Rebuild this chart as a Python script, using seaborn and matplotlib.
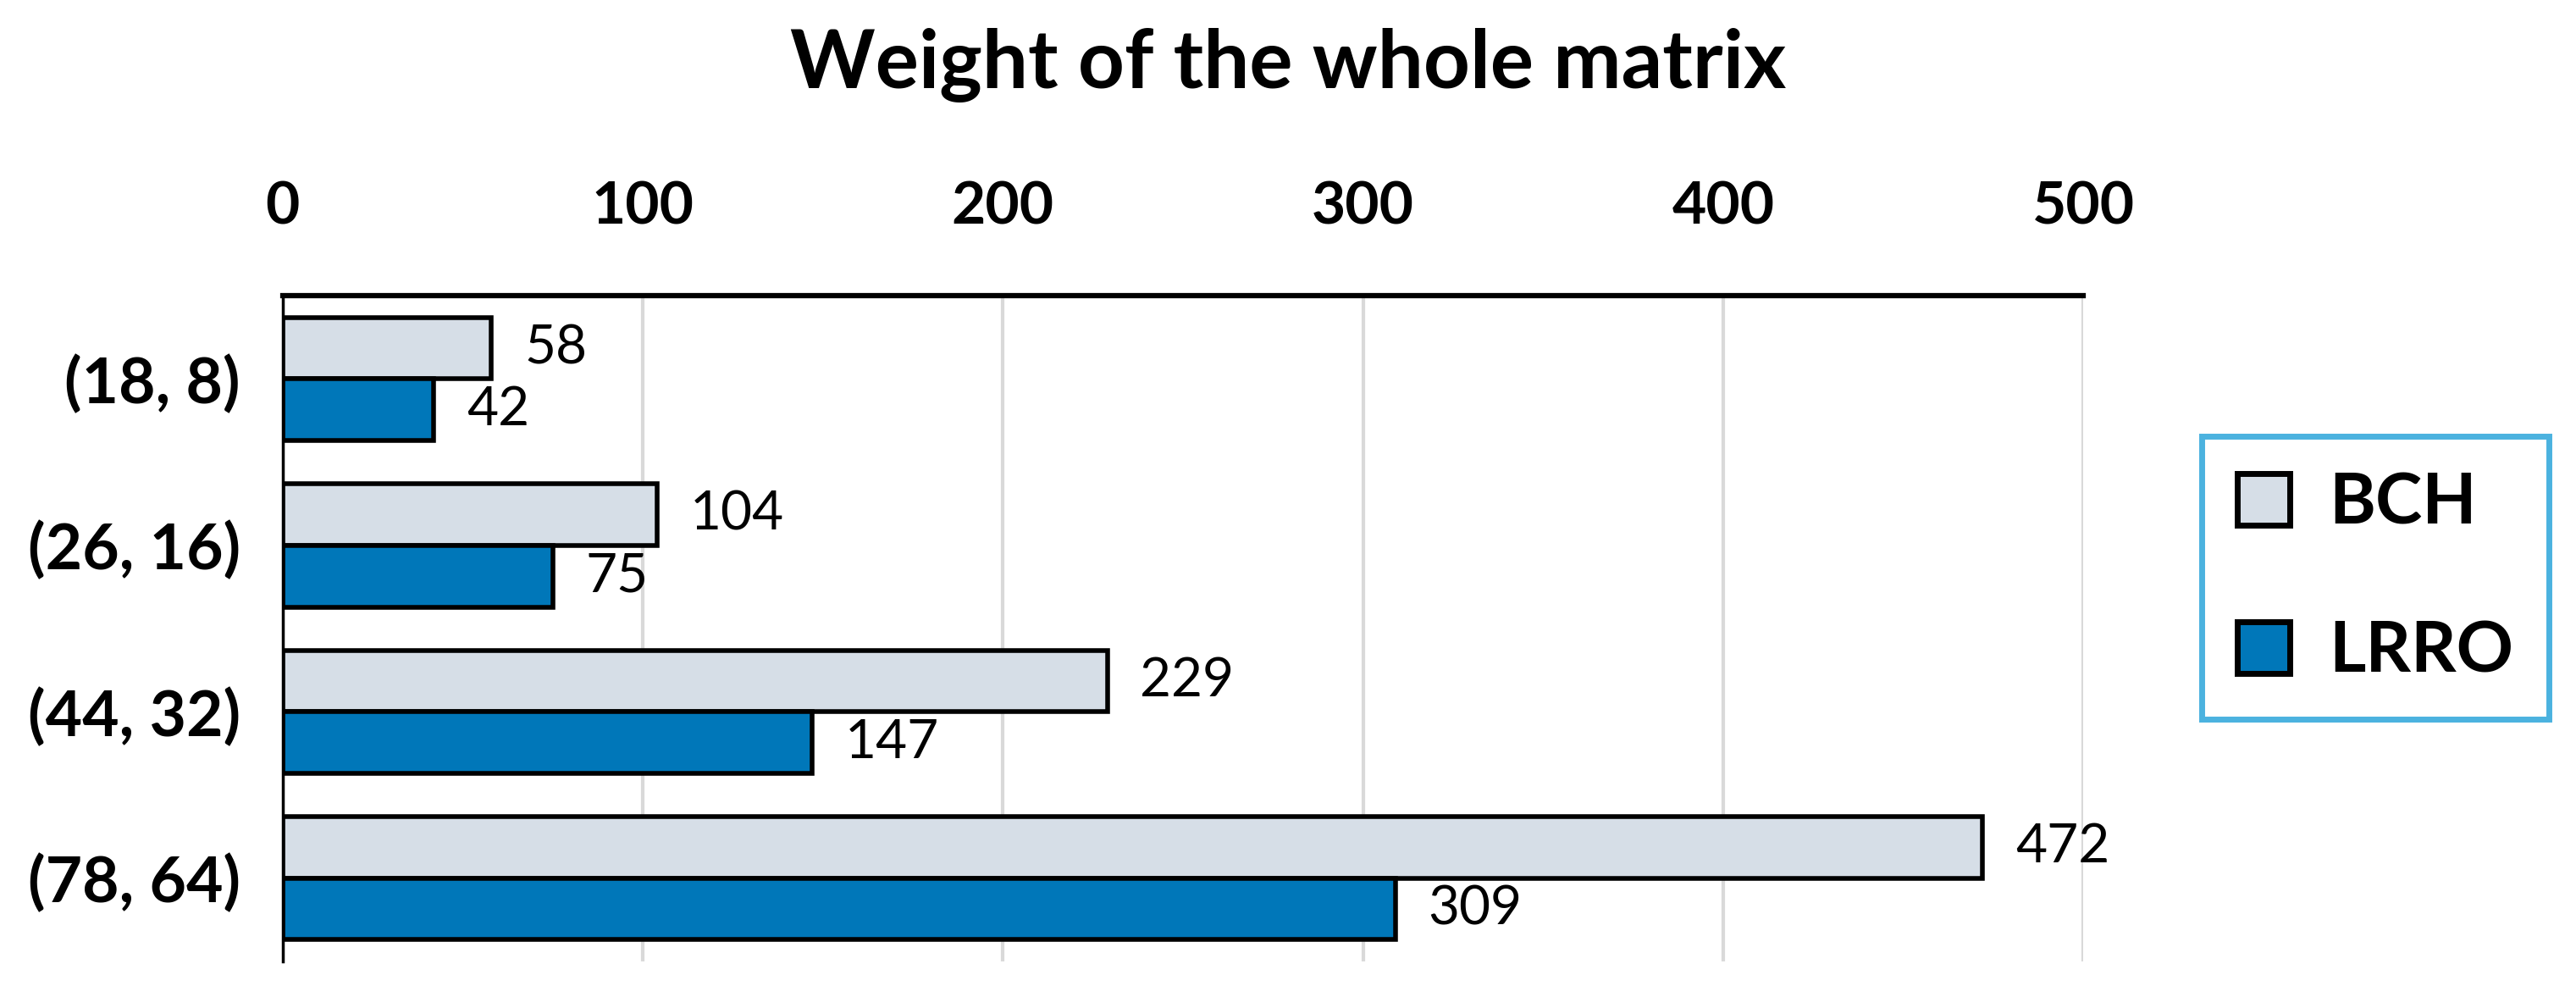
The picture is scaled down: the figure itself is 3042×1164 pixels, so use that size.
"""
Weight of the whole matrix: BCH vs LRRO, horizontal grouped bars
"""
import pandas as pd
import matplotlib
matplotlib.use('Agg')
import matplotlib.pyplot as plt
from matplotlib.patches import Patch
import seaborn as sns

codes = ['(18, 8)', '(26, 16)', '(44, 32)', '(78, 64)']
bch = [58, 104, 229, 472]
lrro = [42, 75, 147, 309]
schemes = ['BCH', 'LRRO']
xticks = [0, 100, 200, 300, 400, 500]
colors = ['#d6dee7', '#0077b9']

df = pd.DataFrame({
    'code': codes * 2,
    'weight': bch + lrro,
    'scheme': ['BCH'] * len(codes) + ['LRRO'] * len(codes),
})

sns.set_theme(style='white')
plt.rcParams['font.family'] = ['Lato', 'DejaVu Sans']
plt.rcParams['text.color'] = 'black'
plt.rcParams['xtick.color'] = 'black'
plt.rcParams['ytick.color'] = 'black'

fig = plt.figure(figsize=(30.42, 11.64), dpi=100)
ax = fig.add_axes([0.1097, 0.025, 0.699, 0.675])

sns.barplot(data=df, y='code', x='weight', hue='scheme', orient='h',
            palette=colors, saturation=1, width=0.74,
            edgecolor='black', linewidth=4, ax=ax, legend=False)

for cont in ax.containers:
    ax.bar_label(cont, padding=28, fontsize=46, color='black')

ax.set_xlim(0, 500)
ax.set_ylim(3.5, -0.5)
ax.set_xticks(xticks)
ax.xaxis.tick_top()
ax.tick_params(axis='x', length=0, pad=52, labelsize=50, labelcolor='black')
ax.tick_params(axis='y', length=0, pad=36, labelsize=54, labelcolor='black')
for t in ax.get_xticklabels() + ax.get_yticklabels():
    t.set_fontweight('bold')
ax.set_xlabel('')
ax.set_ylabel('')
ax.grid(axis='x', color='#d9d9d9', linewidth=3)
ax.set_axisbelow(True)

ax.spines['right'].set_visible(False)
ax.spines['bottom'].set_visible(False)
ax.spines['top'].set_linewidth(4.5)
ax.spines['top'].set_color('black')
ax.spines['left'].set_linewidth(2.5)
ax.spines['left'].set_color('black')

fig.suptitle('Weight of the whole matrix', y=0.972, fontsize=69,
             fontweight='bold', color='black')

# legend box on the right, outside the axes
handles = [Patch(facecolor=c, edgecolor='black', linewidth=5) for c in colors]
leg = fig.legend(handles, schemes, loc='center', bbox_to_anchor=(0.922, 0.414),
                 prop={'size': 60, 'weight': 'bold'}, frameon=True, fancybox=False,
                 handlelength=0.75, handleheight=0.75, handletextpad=0.55,
                 labelspacing=1.2, borderpad=0.5, borderaxespad=0,
                 labelcolor='black')
leg.get_frame().set_edgecolor('#1e9fd8')
leg.get_frame().set_linewidth(5)

plt.savefig('out.png', dpi=100)
plt.close()
